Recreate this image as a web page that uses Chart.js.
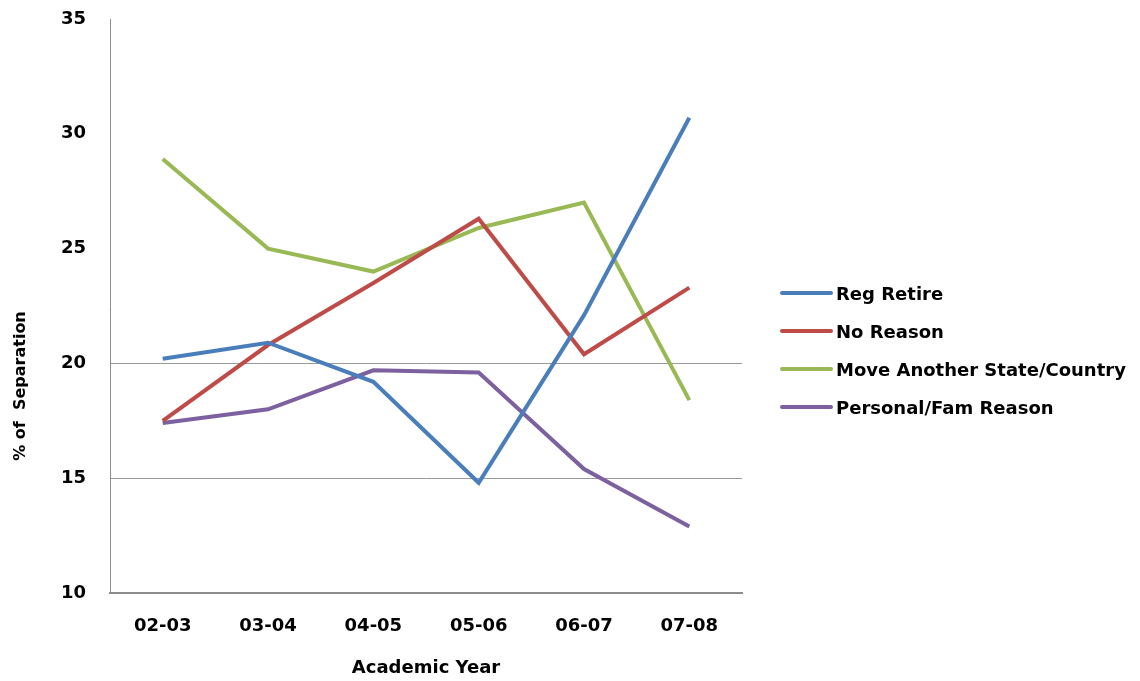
<!DOCTYPE html>
<html>
<head>
<meta charset="utf-8">
<script src="https://cdn.jsdelivr.net/npm/chart.js@4"></script>
<style>
  body { margin: 0; background: #fff; }
  #wrap { position: relative; width: 1140px; height: 681px; }
  #legend {
    position: absolute; left: 780px; top: 274px;
    margin: 0; padding: 0; list-style: none;
    font: bold 18px "DejaVu Sans"; color: #000;
  }
  #legend li { display: flex; align-items: center; height: 38px; white-space: nowrap; }
  #legend span { display: inline-block; width: 53px; height: 4px; margin-right: 3px; border-radius: 2px; }
</style>
</head>
<body>
<div id="wrap"><canvas id="myChart"></canvas><ul id="legend"></ul></div>
<script>
const years = ['02-03', '03-04', '04-05', '05-06', '06-07', '07-08'];
const regRetire = [20.2, 20.9, 19.2, 14.8, 22.1, 30.7];
const noReason = [17.5, 20.8, 23.5, 26.3, 20.4, 23.3];
const moveAway = [28.9, 25.0, 24.0, 25.9, 27.0, 18.4];
const personalFam = [17.4, 18.0, 19.7, 19.6, 15.4, 12.9];
const yTicks = [10, 15, 20, 25, 30, 35];
const shownGrid = [15, 20];

Chart.defaults.font.family = '"DejaVu Sans"';
Chart.defaults.color = '#000';

function line(label, data, color) {
    return {
        label: label,
        data: data,
        borderColor: color,
        backgroundColor: color,
        borderWidth: 4,
        pointRadius: 0,
        tension: 0
    };
}

// y axis title sits lower than the plot centre in the original
const yTitle = {
    id: 'yTitle',
    afterDraw(chart) {
        const c = chart.ctx;
        c.save();
        c.translate(21, 386);
        c.rotate(-Math.PI / 2);
        c.font = 'bold 16px "DejaVu Sans"';
        c.fillStyle = '#000';
        c.textAlign = 'center';
        c.textBaseline = 'middle';
        c.fillText('% of  Separation', 0, 0);
        c.restore();
    }
};

const myChart = new Chart(document.getElementById('myChart'), {
    type: 'line',
    data: {
        labels: years,
        datasets: [
            line('Reg Retire', regRetire, '#4a7ebb'),
            line('No Reason', noReason, '#be4b48'),
            line('Move Another State/Country', moveAway, '#98b954'),
            line('Personal/Fam Reason', personalFam, '#7d60a0')
        ]
    },
    plugins: [yTitle],
    options: {
        responsive: true,
        maintainAspectRatio: false,
        animation: false,
        layout: {
            padding: { left: 37, top: 19, right: 398, bottom: 0 }
        },
        scales: {
            x: {
                offset: true,
                grid: { display: false, drawTicks: false },
                border: { color: '#8c8c8c', width: 2 },
                ticks: {
                    padding: 24,
                    font: { size: 18, weight: 'bold', lineHeight: 1 }
                },
                title: {
                    display: true,
                    text: 'Academic Year',
                    padding: { top: 0, bottom: 4 },
                    font: { size: 18, weight: 'bold', lineHeight: 1 }
                }
            },
            y: {
                min: yTicks[0],
                max: yTicks[yTicks.length - 1],
                afterBuildTicks: (s) => { s.ticks = yTicks.map(v => ({ value: v })); },
                afterFit: (s) => { s.paddingTop = 0; s.paddingBottom = 0; },
                grid: {
                    drawTicks: false,
                    color: (ctx) => shownGrid.includes(ctx.tick.value) ? '#999' : 'rgba(0,0,0,0)'
                },
                border: { color: '#8c8c8c', width: 1 },
                ticks: {
                    padding: 24,
                    font: { size: 18, weight: 'bold' }
                }
            }
        },
        plugins: {
            legend: { display: false },
            tooltip: { enabled: false }
        }
    }
});

// legend on the right, built from the datasets
const legendEl = document.getElementById('legend');
myChart.data.datasets.forEach(ds => {
    const li = document.createElement('li');
    const swatch = document.createElement('span');
    swatch.style.background = ds.borderColor;
    li.appendChild(swatch);
    li.appendChild(document.createTextNode(ds.label));
    legendEl.appendChild(li);
});
</script>
</body>
</html>
